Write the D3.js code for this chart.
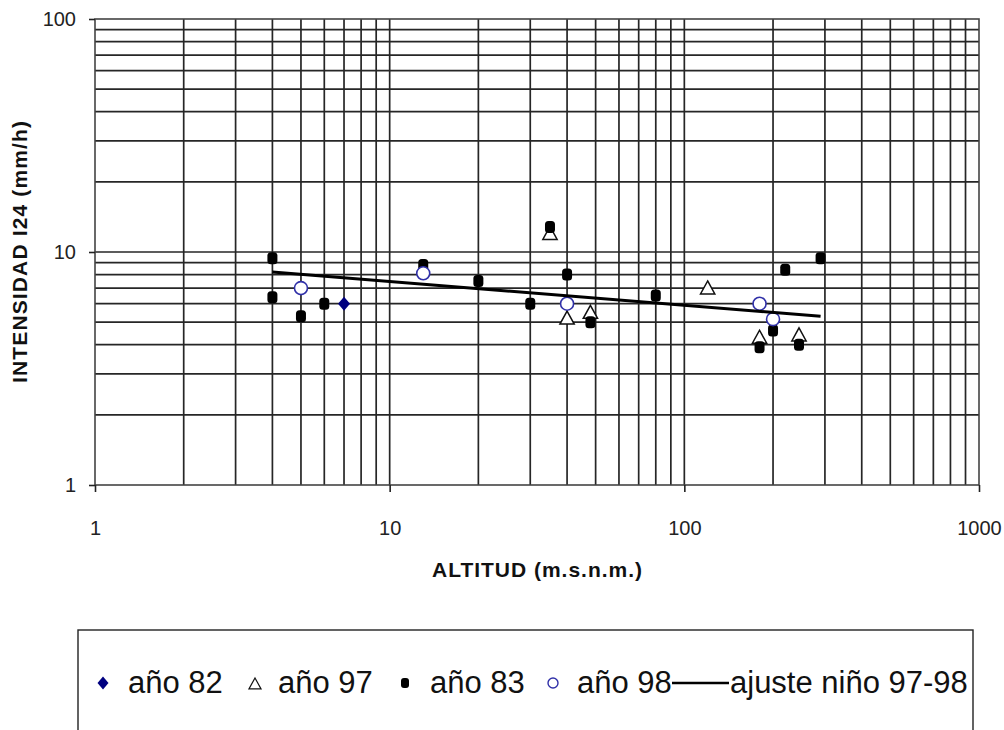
<!DOCTYPE html>
<html><head><meta charset="utf-8">
<script src="https://cdn.jsdelivr.net/npm/d3@7"></script>
<style>
html,body{margin:0;padding:0;background:#fff;}
svg{display:block;font-family:"Liberation Sans",Arial,sans-serif;}
</style></head>
<body><svg id="c" width="1004" height="730"></svg>
<script>
// ---- data ----
const xTicks = [1, 10, 100, 1000];
const yTicks = [1, 10, 100];
const ano82X = [7];
const ano82Y = [6.0];
const ano97X = [35, 40, 48, 120, 180, 245];
const ano97Y = [12, 5.2, 5.5, 7.0, 4.3, 4.4];
const ano83X = [4, 4, 5, 6, 13, 20, 30, 35, 40, 48, 80, 180, 200, 220, 245, 290];
const ano83Y = [9.4, 6.4, 5.3, 6.0, 8.8, 7.5, 6.0, 12.8, 8.0, 5.0, 6.5, 3.9, 4.6, 8.4, 4.0, 9.4];
const ano98X = [5, 13, 40, 180, 200];
const ano98Y = [7.0, 8.1, 6.0, 6.0, 5.15];
const fitX = [4, 290];
const fitY = [8.2, 5.3];
const legendLabels = ["año 82", "año 97", "año 83", "año 98", "ajuste niño 97-98"];
const xTitle = "ALTITUD (m.s.n.m.)";
const yTitle = "INTENSIDAD I24 (mm/h)";

const zip = (a, b) => a.map((v, i) => [v, b[i]]);

const svg = d3.select("#c");
const L = 95, R = 979, T = 19, B = 485;
const x = d3.scaleLog().domain([1, 1000]).range([L, R]);
const y = d3.scaleLog().domain([1, 100]).range([B, T]);

// minor + major grid
const xGrid = [];
for (let k = 0; k < 3; k++) for (let m = 1; m <= 9; m++) { const v = m * Math.pow(10, k); if (v > 1) xGrid.push(v); }
const yGrid = [];
for (let k = 0; k < 2; k++) for (let m = 1; m <= 9; m++) { const v = m * Math.pow(10, k); if (v > 1) yGrid.push(v); }

const g = svg.append("g");
g.selectAll("line.vg").data(xGrid).join("line")
  .attr("x1", d => x(d)).attr("x2", d => x(d)).attr("y1", T).attr("y2", B)
  .attr("stroke", "#262626").attr("stroke-width", 1.7);
g.selectAll("line.hg").data(yGrid).join("line")
  .attr("x1", L).attr("x2", R).attr("y1", d => y(d)).attr("y2", d => y(d))
  .attr("stroke", "#262626").attr("stroke-width", 1.7);

// frame
g.append("rect").attr("x", L).attr("y", T).attr("width", R - L).attr("height", B - T)
  .attr("fill", "none").attr("stroke", "#444").attr("stroke-width", 1.6);

// axes
const ax = svg.append("g").attr("transform", `translate(0,${B})`)
  .call(d3.axisBottom(x).tickValues(xTicks).tickFormat(d3.format("d")).tickSize(7).tickPadding(29));
const ay = svg.append("g").attr("transform", `translate(${L},0)`)
  .call(d3.axisLeft(y).tickValues(yTicks).tickFormat(d3.format("d")).tickSize(6).tickPadding(13));
[ax, ay].forEach(a => {
  a.select(".domain").remove();
  a.selectAll(".tick line").attr("stroke", "#222").attr("stroke-width", 1.6);
  a.selectAll(".tick text").attr("font-size", 20).attr("fill", "#222")
    .attr("font-family", '"Liberation Sans",Arial,sans-serif');
});

// axis titles
svg.append("text").attr("x", 537).attr("y", 577).attr("text-anchor", "middle")
  .attr("font-size", 21).attr("font-weight", "bold").attr("fill", "#111")
  .attr("textLength", 210).attr("lengthAdjust", "spacing").text(xTitle);
svg.append("text").attr("transform", "translate(27,252) rotate(-90)").attr("text-anchor", "middle")
  .attr("font-size", 21).attr("font-weight", "bold").attr("fill", "#111")
  .attr("textLength", 262).attr("lengthAdjust", "spacing").text(yTitle);

// marker drawers
const tri = (s) => `M0,${-s * 0.55}L${s * 0.55},${s * 0.45}L${-s * 0.55},${s * 0.45}Z`;
const dia = (w, h) => `M0,${-h / 2}L${w / 2},0L0,${h / 2}L${-w / 2},0Z`;

const pts = svg.append("g");
// año 82
pts.selectAll("path.a82").data(zip(ano82X, ano82Y)).join("path")
  .attr("transform", d => `translate(${x(d[0])},${y(d[1])})`)
  .attr("d", dia(12, 14)).attr("fill", "#000080");
// año 97
pts.selectAll("path.a97").data(zip(ano97X, ano97Y)).join("path")
  .attr("transform", d => `translate(${x(d[0])},${y(d[1])})`)
  .attr("d", tri(13)).attr("fill", "#fff").attr("stroke", "#111").attr("stroke-width", 1.5);
// año 83
pts.selectAll("rect.a83").data(zip(ano83X, ano83Y)).join("rect")
  .attr("x", d => x(d[0]) - 5).attr("y", d => y(d[1]) - 6)
  .attr("width", 10).attr("height", 12).attr("rx", 3.5).attr("fill", "#000");
// año 98
pts.selectAll("circle.a98").data(zip(ano98X, ano98Y)).join("circle")
  .attr("cx", d => x(d[0])).attr("cy", d => y(d[1])).attr("r", 6.5)
  .attr("fill", "#fff").attr("stroke", "#3030a8").attr("stroke-width", 1.6);
// fit
svg.append("path").datum(zip(fitX, fitY))
  .attr("d", d3.line().x(d => x(d[0])).y(d => y(d[1])))
  .attr("fill", "none").attr("stroke", "#000").attr("stroke-width", 3);

// legend
const lg = svg.append("g");
lg.append("rect").attr("x", 78).attr("y", 630).attr("width", 895).attr("height", 120)
  .attr("fill", "#fff").attr("stroke", "#222").attr("stroke-width", 1.4);
const ly = 683;
const markX = [103, 255, 405, 553];
const textX = [128, 278, 430, 577, 730];
lg.append("path").attr("transform", `translate(${markX[0]},${ly})`).attr("d", dia(11, 13)).attr("fill", "#000080");
lg.append("path").attr("transform", `translate(${markX[1]},${ly + 1})`).attr("d", tri(11)).attr("fill", "#fff").attr("stroke", "#111").attr("stroke-width", 1.2);
lg.append("rect").attr("x", markX[2] - 4).attr("y", ly - 5).attr("width", 8).attr("height", 10).attr("rx", 3).attr("fill", "#000");
lg.append("circle").attr("cx", markX[3]).attr("cy", ly).attr("r", 5).attr("fill", "#fff").attr("stroke", "#3030a8").attr("stroke-width", 1.4);
lg.append("line").attr("x1", 672).attr("x2", 729).attr("y1", ly).attr("y2", ly).attr("stroke", "#000").attr("stroke-width", 2.5);
lg.selectAll("text").data(legendLabels).join("text")
  .attr("x", (d, i) => textX[i]).attr("y", 693).attr("font-size", 31).attr("fill", "#111").text(d => d);
</script></body></html>
